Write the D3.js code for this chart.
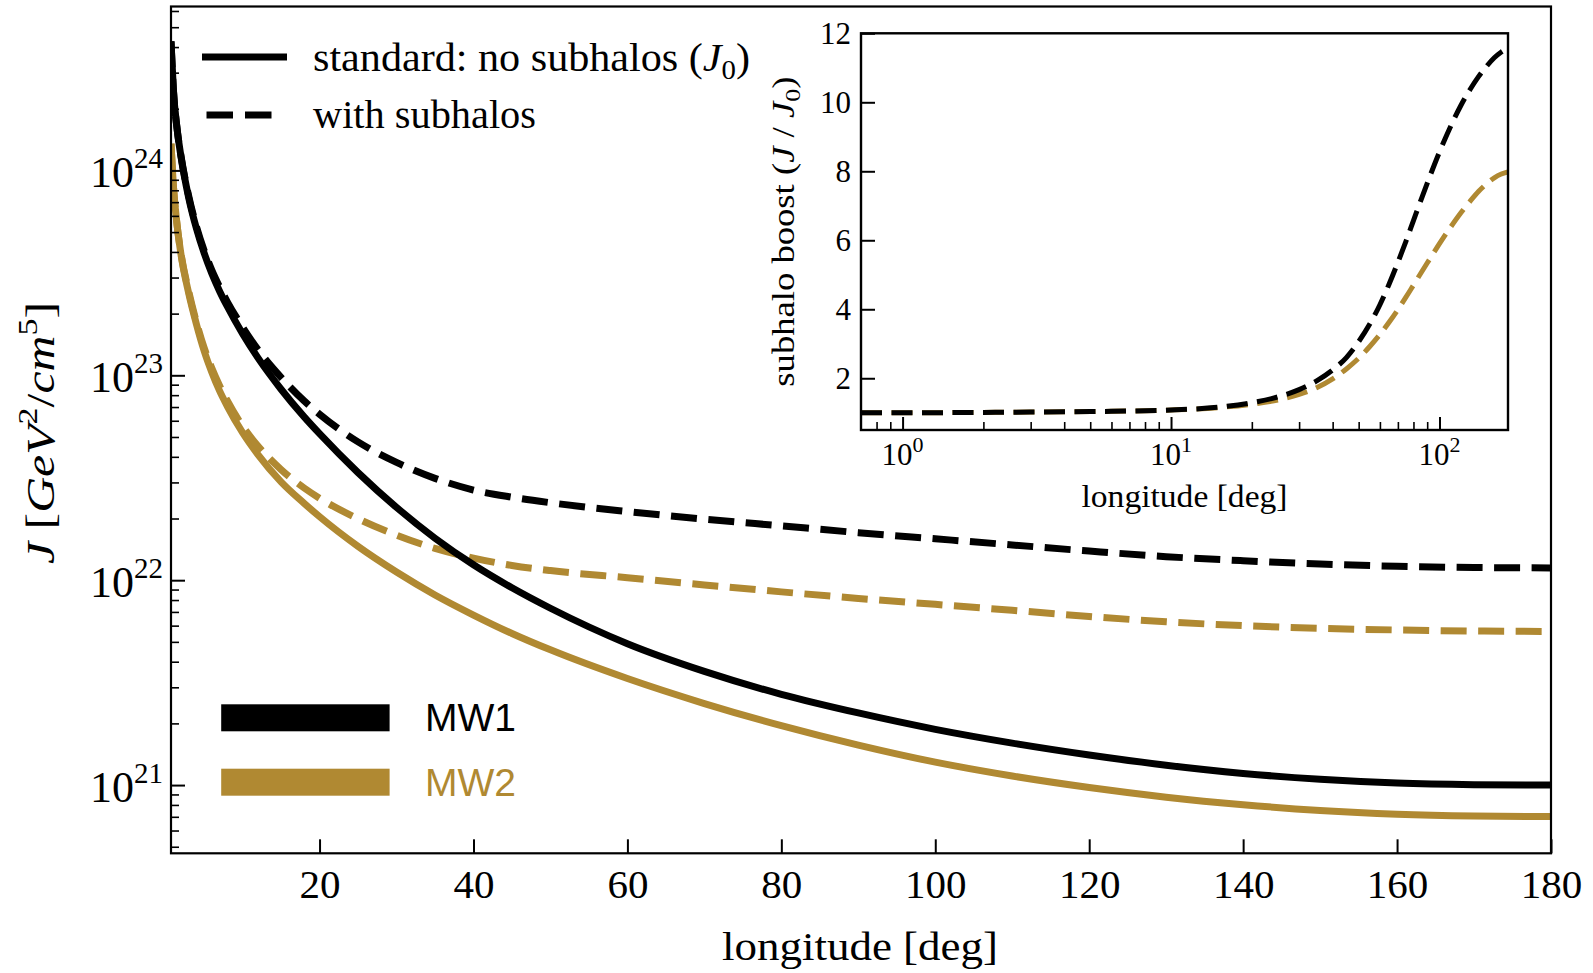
<!DOCTYPE html>
<html>
<head>
<meta charset="utf-8">
<script src="https://cdn.jsdelivr.net/npm/d3@7"></script>
<style>
  body { margin: 0; background: #ffffff; }
  svg { display: block; }
  .serif { font-family: "Liberation Serif", "Times New Roman", serif; }
  .sans { font-family: "Liberation Sans", Arial, sans-serif; }
</style>
</head>
<body>
<svg id="chart" width="1593" height="973"></svg>
<script>
// ---------------- DATA ----------------
// Main panel: J-factor [GeV^2/cm^5] vs longitude [deg]
const longitude = [0.7, 1, 1.5, 2, 3, 4, 5, 6, 7, 8, 10, 12, 15, 18, 20, 25, 30, 35, 40, 45, 50,
                   60, 70, 80, 90, 100, 110, 120, 130, 140, 150, 160, 170, 180];

// MW1, standard (no subhalos), J0
const J0_MW1 = [4.266e24, 2.512e24, 1.585e24, 1.167e24, 7.362e23, 5.212e23, 3.954e23, 3.141e23, 2.582e23, 2.173e23,
                1.596e23, 1.216e23, 8.551e22, 6.266e22, 5.188e22, 3.350e22, 2.265e22, 1.603e22, 1.189e22, 9.183e21,
                7.295e21, 4.898e21, 3.589e21, 2.773e21, 2.249e21, 1.871e21, 1.603e21, 1.403e21, 1.250e21, 1.140e21,
                1.067e21, 1.023e21, 1.005e21, 1.000e21];
// MW1, with subhalos, J
const J_MW1 = [4.266e24, 2.512e24, 1.585e24, 1.175e24, 7.499e23, 5.333e23, 4.074e23, 3.258e23, 2.704e23, 2.291e23,
               1.718e23, 1.334e23, 9.772e22, 7.499e22, 6.457e22, 4.732e22, 3.758e22, 3.141e22, 2.754e22, 2.541e22,
               2.388e22, 2.163e22, 1.986e22, 1.841e22, 1.706e22, 1.592e22, 1.486e22, 1.387e22, 1.303e22, 1.245e22,
               1.199e22, 1.169e22, 1.153e22, 1.148e22];
// MW2, standard (no subhalos), J0
const J0_MW2 = [1.349e24, 8.511e23, 5.370e23, 3.890e23, 2.512e23, 1.778e23, 1.318e23, 1.035e23, 8.414e22, 7.079e22,
                5.248e22, 4.102e22, 3.020e22, 2.371e22, 2.042e22, 1.462e22, 1.096e22, 8.472e21, 6.761e21, 5.495e21,
                4.571e21, 3.311e21, 2.500e21, 1.950e21, 1.567e21, 1.294e21, 1.107e21, 9.727e20, 8.730e20, 8.017e20,
                7.516e20, 7.211e20, 7.063e20, 7.015e20];
// MW2, with subhalos, J
const J_MW2 = [1.349e24, 8.511e23, 5.370e23, 3.917e23, 2.570e23, 1.820e23, 1.365e23, 1.084e23, 8.913e22, 7.534e22,
               5.649e22, 4.519e22, 3.467e22, 2.818e22, 2.512e22, 1.995e22, 1.660e22, 1.429e22, 1.282e22, 1.180e22,
               1.114e22, 1.028e22, 9.484e21, 8.770e21, 8.147e21, 7.621e21, 7.129e21, 6.653e21, 6.266e21, 5.998e21,
               5.821e21, 5.715e21, 5.649e21, 5.623e21];

// Inset: subhalo boost J/J0 vs longitude (log x)
const boostLongitude = [0.7, 1, 2, 3, 5, 7, 10, 15, 20, 25, 30, 35, 40, 45, 50, 55, 60, 65, 70, 75, 80,
                        90, 100, 110, 120, 130, 140, 150, 160, 170, 180];
const boost_MW1 = [1.00, 1.00, 1.01, 1.02, 1.035, 1.05, 1.08, 1.16, 1.29, 1.46, 1.67, 1.93, 2.24, 2.60, 3.06,
                   3.57, 4.13, 4.74, 5.36, 5.97, 6.57, 7.65, 8.56, 9.30, 9.90, 10.37, 10.75, 11.05, 11.29,
                   11.46, 11.57];
const boost_MW2 = [1.00, 1.00, 1.01, 1.02, 1.035, 1.05, 1.08, 1.15, 1.25, 1.37, 1.53, 1.73, 1.98, 2.27, 2.58,
                   2.92, 3.27, 3.63, 3.99, 4.35, 4.70, 5.34, 5.90, 6.38, 6.79, 7.13, 7.42, 7.64, 7.81,
                   7.92, 7.98];

// Ticks / labels
const xTicks = [20, 40, 60, 80, 100, 120, 140, 160, 180];
const yTicks = [1e21, 1e22, 1e23, 1e24];
const yTickExps = ["21", "22", "23", "24"];
const insetXTicks = [1, 10, 100];
const insetXTickExps = ["0", "1", "2"];
const insetYTicks = [2, 4, 6, 8, 10, 12];
const modelNames = ["MW1", "MW2"];
const legendStyles = ["standard: no subhalos (", "with subhalos"];

// ---------------- LAYOUT ----------------
const GOLD = "#b08932";
const BLACK = "#000000";
const svg = d3.select("#chart");

const M = { left: 171, right: 1551, top: 6.5, bottom: 853.3 };
const I = { left: 861, right: 1508, top: 33.3, bottom: 430 };

const x = d3.scaleLinear().domain([0.7, 180]).range([M.left, M.right]);
const y = d3.scaleLog().domain([4.645e20, 6.31e24]).range([M.bottom, M.top]);

const xi = d3.scaleLog().domain([0.7, 180]).range([I.left, I.right]);
const yi = d3.scaleLinear().domain([0.5, 12]).range([I.bottom, I.top]);

const defs = svg.append("defs");
defs.append("clipPath").attr("id", "clipMain").append("rect")
  .attr("x", M.left).attr("y", M.top).attr("width", M.right - M.left).attr("height", M.bottom - M.top);
defs.append("clipPath").attr("id", "clipInset").append("rect")
  .attr("x", I.left).attr("y", I.top).attr("width", I.right - I.left).attr("height", I.bottom - I.top);

// ---------------- MAIN CURVES ----------------
const mainLine = d3.line()
  .x((d, i) => x(longitude[i]))
  .y(d => y(d))
  .curve(d3.curveMonotoneX);

const gMain = svg.append("g").attr("clip-path", "url(#clipMain)");
const LW = 7;
const DASH = "26,11.5";
const mainSeries = [
  { values: J0_MW2, color: GOLD, dash: null },
  { values: J_MW2, color: GOLD, dash: DASH },
  { values: J0_MW1, color: BLACK, dash: null },
  { values: J_MW1, color: BLACK, dash: DASH }
];
mainSeries.forEach(s => {
  gMain.append("path")
    .attr("d", mainLine(s.values))
    .attr("fill", "none")
    .attr("stroke", s.color)
    .attr("stroke-width", LW)
    .attr("stroke-dasharray", s.dash)
    .attr("stroke-linejoin", "round");
});

// ---------------- MAIN AXES ----------------
function styleTicks(g, w) {
  g.select(".domain").remove();
  g.selectAll(".tick line").attr("stroke", "#000").attr("stroke-width", w);
}

const axX = svg.append("g").attr("transform", `translate(0,${M.bottom})`)
  .call(d3.axisBottom(x).tickValues(xTicks).tickSize(-14).tickSizeOuter(0).tickFormat(d3.format("d")));
styleTicks(axX, 2);
axX.selectAll(".tick text")
  .attr("y", 45).attr("dy", null)
  .attr("class", "serif")
  .attr("font-size", 41)
  .attr("fill", "#000");
axX.attr("font-family", null).attr("font-size", null);

const axY = svg.append("g").attr("transform", `translate(${M.left},0)`)
  .call(d3.axisLeft(y).tickValues(yTicks).tickSize(-14).tickSizeOuter(0).tickFormat(""));
styleTicks(axY, 2);

const yMinor = [];
[20, 21, 22, 23, 24].forEach(k => {
  for (let m = 2; m <= 9; m++) {
    const v = m * Math.pow(10, k);
    if (v > y.domain()[0] && v < y.domain()[1]) yMinor.push(v);
  }
});
const axYm = svg.append("g").attr("transform", `translate(${M.left},0)`)
  .call(d3.axisLeft(y).tickValues(yMinor).tickSize(-8).tickSizeOuter(0).tickFormat(""));
styleTicks(axYm, 1.6);

yTicks.forEach((v, i) => {
  const t = svg.append("text")
    .attr("class", "serif")
    .attr("x", 163).attr("y", y(v) + 17)
    .attr("text-anchor", "end")
    .attr("font-size", 44);
  t.append("tspan").text("10");
  t.append("tspan").attr("dy", -19).attr("font-size", 29).text(yTickExps[i]);
});

svg.append("rect")
  .attr("x", M.left).attr("y", M.top)
  .attr("width", M.right - M.left).attr("height", M.bottom - M.top)
  .attr("fill", "none").attr("stroke", "#000").attr("stroke-width", 2.2);

// axis labels
svg.append("text")
  .attr("class", "serif")
  .attr("x", 860).attr("y", 960)
  .attr("text-anchor", "middle")
  .attr("font-size", 41)
  .attr("textLength", 276).attr("lengthAdjust", "spacingAndGlyphs")
  .text("longitude [deg]");

const yl = svg.append("text")
  .attr("class", "serif")
  .attr("transform", "translate(54,433) rotate(-90)")
  .attr("text-anchor", "middle")
  .attr("font-size", 41)
  .attr("textLength", 262).attr("lengthAdjust", "spacingAndGlyphs");
yl.append("tspan").attr("font-style", "italic").text("J");
yl.append("tspan").text(" [");
yl.append("tspan").attr("font-style", "italic").text("GeV");
yl.append("tspan").attr("dy", -17).attr("font-size", 28).text("2");
yl.append("tspan").attr("dy", 17).text("/");
yl.append("tspan").attr("font-style", "italic").text("cm");
yl.append("tspan").attr("dy", -17).attr("font-size", 28).text("5");
yl.append("tspan").attr("dy", 17).text("]");

// ---------------- LEGENDS ----------------
svg.append("line")
  .attr("x1", 202).attr("x2", 287).attr("y1", 57).attr("y2", 57)
  .attr("stroke", "#000").attr("stroke-width", LW);
svg.append("line")
  .attr("x1", 206.5).attr("x2", 272).attr("y1", 115).attr("y2", 115)
  .attr("stroke", "#000").attr("stroke-width", LW).attr("stroke-dasharray", "26.5,12");

const l1 = svg.append("text").attr("class", "serif")
  .attr("x", 313).attr("y", 71).attr("font-size", 41)
  .attr("textLength", 437).attr("lengthAdjust", "spacingAndGlyphs");
l1.append("tspan").text(legendStyles[0]);
l1.append("tspan").attr("font-style", "italic").text("J");
l1.append("tspan").attr("dy", 8).attr("font-size", 28).text("0");
l1.append("tspan").attr("dy", -8).text(")");

svg.append("text").attr("class", "serif")
  .attr("x", 313).attr("y", 128).attr("font-size", 41)
  .attr("textLength", 223).attr("lengthAdjust", "spacingAndGlyphs")
  .text(legendStyles[1]);

const modelColors = [BLACK, GOLD];
const modelY = [704.3, 768.7];
modelNames.forEach((n, i) => {
  svg.append("rect")
    .attr("x", 221.2).attr("y", modelY[i]).attr("width", 168.4).attr("height", 27)
    .attr("fill", modelColors[i]);
  svg.append("text")
    .attr("class", "sans")
    .attr("x", 425).attr("y", modelY[i] + 27)
    .attr("font-size", 39)
    .attr("fill", modelColors[i])
    .text(n);
});

// ---------------- INSET ----------------
svg.append("rect")
  .attr("x", I.left).attr("y", I.top)
  .attr("width", I.right - I.left).attr("height", I.bottom - I.top)
  .attr("fill", "#fff");

const insetLine = d3.line()
  .x((d, i) => xi(boostLongitude[i]))
  .y(d => yi(d))
  .curve(d3.curveMonotoneX);

const gInset = svg.append("g").attr("clip-path", "url(#clipInset)");
[{ v: boost_MW2, c: GOLD }, { v: boost_MW1, c: BLACK }].forEach(s => {
  gInset.append("path")
    .attr("d", insetLine(s.v))
    .attr("fill", "none")
    .attr("stroke", s.c)
    .attr("stroke-width", 5)
    .attr("stroke-dasharray", "21,9.5");
});

const iaxX = svg.append("g").attr("transform", `translate(0,${I.bottom})`)
  .call(d3.axisBottom(xi).tickValues(insetXTicks).tickSize(-13).tickSizeOuter(0).tickFormat(""));
styleTicks(iaxX, 2);
const insetMinorX = [];
[-1, 0, 1, 2].forEach(k => {
  for (let m = 2; m <= 9; m++) {
    const v = m * Math.pow(10, k);
    if (v > xi.domain()[0] * 1.01 && v < xi.domain()[1]) insetMinorX.push(v);
  }
});
const iaxXm = svg.append("g").attr("transform", `translate(0,${I.bottom})`)
  .call(d3.axisBottom(xi).tickValues(insetMinorX).tickSize(-8).tickSizeOuter(0).tickFormat(""));
styleTicks(iaxXm, 1.6);

const iaxY = svg.append("g").attr("transform", `translate(${I.left},0)`)
  .call(d3.axisLeft(yi).tickValues(insetYTicks).tickSize(-14).tickSizeOuter(0).tickFormat(""));
styleTicks(iaxY, 2);

insetYTicks.forEach(v => {
  svg.append("text")
    .attr("class", "serif")
    .attr("x", 851).attr("y", yi(v) + 11)
    .attr("text-anchor", "end")
    .attr("font-size", 31)
    .text(v);
});
insetXTicks.forEach((v, i) => {
  const t = svg.append("text")
    .attr("class", "serif")
    .attr("x", xi(v)).attr("y", 465)
    .attr("text-anchor", "middle")
    .attr("font-size", 31);
  t.append("tspan").text("10");
  t.append("tspan").attr("dy", -13).attr("font-size", 22).text(insetXTickExps[i]);
});

svg.append("rect")
  .attr("x", I.left).attr("y", I.top)
  .attr("width", I.right - I.left).attr("height", I.bottom - I.top)
  .attr("fill", "none").attr("stroke", "#000").attr("stroke-width", 2.4);

svg.append("text")
  .attr("class", "serif")
  .attr("x", (I.left + I.right) / 2).attr("y", 507)
  .attr("text-anchor", "middle")
  .attr("font-size", 31)
  .attr("textLength", 206).attr("lengthAdjust", "spacingAndGlyphs")
  .text("longitude [deg]");

const iyl = svg.append("text")
  .attr("class", "serif")
  .attr("transform", `translate(794,${(I.top + I.bottom) / 2}) rotate(-90)`)
  .attr("text-anchor", "middle")
  .attr("font-size", 31)
  .attr("textLength", 310).attr("lengthAdjust", "spacingAndGlyphs");
iyl.append("tspan").text("subhalo boost (");
iyl.append("tspan").attr("font-style", "italic").text("J");
iyl.append("tspan").text(" / ");
iyl.append("tspan").attr("font-style", "italic").text("J");
iyl.append("tspan").attr("dy", 6).attr("font-size", 22).text("0");
iyl.append("tspan").attr("dy", -6).text(")");
</script>
</body>
</html>
